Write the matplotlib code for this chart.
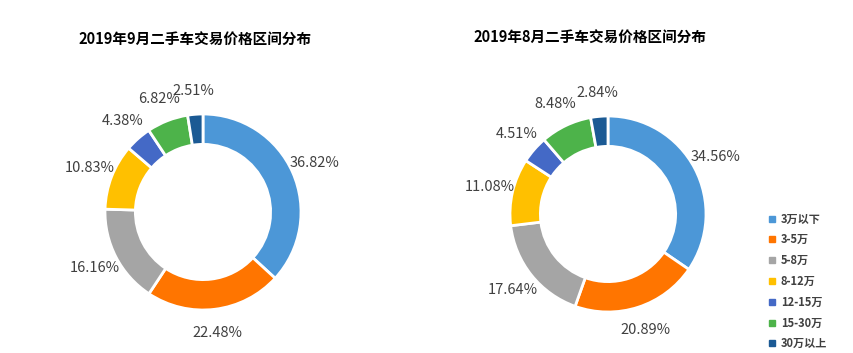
import matplotlib.pyplot as plt
from matplotlib.lines import Line2D

plt.rcParams['font.family'] = ['Noto Sans CJK SC', 'DejaVu Sans']

categories = ["3万以下", "3-5万", "5-8万", "8-12万", "12-15万", "15-30万", "30万以上"]
sep_values = [36.82, 22.48, 16.16, 10.83, 4.38, 6.82, 2.51]
aug_values = [34.56, 20.89, 17.64, 11.08, 4.51, 8.48, 2.84]
titles = ["2019年9月二手车交易价格区间分布", "2019年8月二手车交易价格区间分布"]

colors = ["#4C97D7", "#FF7500", "#A5A5A5", "#FFC000", "#4469C6", "#4DB34A", "#1B5A94"]
text_color = "#404040"

W, H = 854, 353
fig = plt.figure(figsize=(W / 100, H / 100), dpi=100)

R_PX = 98
LIM = 1.6
side = 2 * LIM * R_PX


def donut(cx, cy, values, title, tx, ty):
    ax = fig.add_axes([(cx - side / 2) / W, (H - cy - side / 2) / H, side / W, side / H])
    ax.pie(values, colors=colors, startangle=90, counterclock=False,
           wedgeprops=dict(width=0.31, edgecolor="white", linewidth=2),
           autopct=lambda p: f"{p:.2f}%", pctdistance=1.24,
           textprops=dict(color=text_color, fontsize=10.5))
    ax.set_xlim(-LIM, LIM)
    ax.set_ylim(-LIM, LIM)
    ax.set_aspect("equal")
    ax.axis("off")
    fig.text(tx / W, 1 - ty / H, title, ha="center", va="center",
             fontsize=10.5, fontweight="bold", color="black")


donut(203, 212, sep_values, titles[0], 195, 40)
donut(608, 214, aug_values, titles[1], 590, 38)

handles = [Line2D([], [], marker="s", linestyle="none", markersize=4.5,
                  markerfacecolor=c, markeredgecolor=c) for c in colors]
leg = fig.legend(handles, categories, loc="upper left",
                 bbox_to_anchor=(762 / W, 1 - 207 / H), frameon=False,
                 fontsize=8, labelspacing=0.7, handlelength=0.8,
                 handletextpad=0.4, borderpad=0)
for t in leg.get_texts():
    t.set_color(text_color)
    t.set_fontweight("bold")

fig.savefig("out.png", dpi=100, facecolor="white")
